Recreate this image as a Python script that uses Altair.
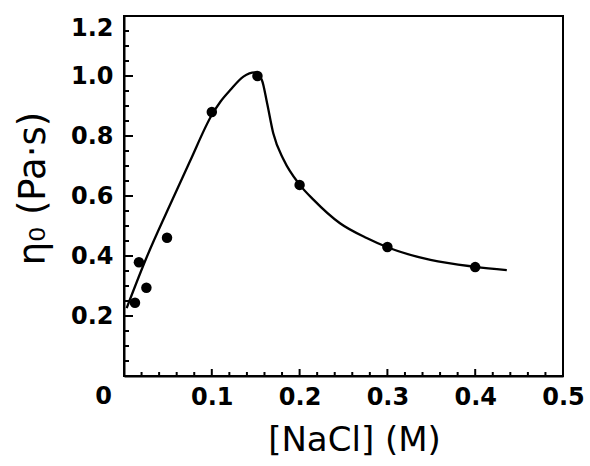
import altair as alt
import pandas as pd

# Measured points
nacl = [0.0125, 0.017, 0.0255, 0.049, 0.1, 0.152, 0.2, 0.3, 0.4]
eta0 = [0.244, 0.379, 0.294, 0.461, 0.88, 1.0, 0.637, 0.43, 0.363]

# Fitted curve
curve_x = [0.003, 0.025, 0.05, 0.075, 0.1, 0.11, 0.121, 0.136, 0.149,
           0.157, 0.163, 0.170, 0.182, 0.2, 0.216, 0.246, 0.277, 0.3, 0.349, 0.4, 0.436]
curve_y = [0.226, 0.39, 0.555, 0.715, 0.87, 0.915, 0.953, 0.998, 1.012,
           0.987, 0.909, 0.809, 0.72, 0.638, 0.587, 0.509, 0.459, 0.429, 0.387, 0.364, 0.353]

x_major = [0.1, 0.2, 0.3, 0.4, 0.5]
x_minor = [0.02, 0.04, 0.06, 0.08, 0.12, 0.14, 0.16, 0.18, 0.22, 0.24, 0.26, 0.28,
           0.32, 0.34, 0.36, 0.38, 0.42, 0.44, 0.46, 0.48]
y_major = [0.2, 0.4, 0.6, 0.8, 1.0, 1.2]
y_minor = [0.05, 0.1, 0.15, 0.25, 0.3, 0.35, 0.45, 0.5, 0.55, 0.65, 0.7, 0.75,
           0.85, 0.9, 0.95, 1.05, 1.1, 1.15]
origin_label = ["0"]

pts = pd.DataFrame({"x": nacl, "y": eta0})
crv = pd.DataFrame({"x": curve_x, "y": curve_y})
org = pd.DataFrame({"x": [0.0], "y": [0.0], "t": origin_label})

LFONT = "DejaVu Sans"
H = 360

xscale = alt.Scale(domain=[0, 0.5], nice=False, zero=False)
yscale = alt.Scale(domain=[0, 1.2], nice=False, zero=False)

xaxis = alt.Axis(
    values=x_major, format=".1f", ticks=False,
    domainColor="black", domainWidth=2,
    labelFont=LFONT, labelFontSize=24, labelFontWeight="bold", labelColor="black",
    labelPadding=9, labelOverlap=False, labelFlush=False,
    title="[NaCl] (M)", titleFont=LFONT, titleFontSize=34, titleFontWeight="normal",
    titleColor="black", titlePadding=14, titleX=230, grid=False,
)
yaxis = alt.Axis(
    values=y_major, format=".1f", ticks=False,
    domainColor="black", domainWidth=2,
    labelFont=LFONT, labelFontSize=24, labelFontWeight="bold", labelColor="black",
    labelPadding=11, labelOverlap=False, labelFlush=True, labelFlushOffset=0,
    title="η₀ (Pa·s)", titleFont=LFONT, titleFontSize=37, titleFontWeight="normal",
    titleColor="black", titlePadding=18, titleY=172, grid=False,
)

line = alt.Chart(crv).mark_line(color="black", strokeWidth=2.3, interpolate="monotone").encode(
    x=alt.X("x:Q", scale=xscale, axis=xaxis),
    y=alt.Y("y:Q", scale=yscale, axis=yaxis),
)
points = alt.Chart(pts).mark_circle(size=110, color="black", opacity=1).encode(
    x=alt.X("x:Q", scale=xscale),
    y=alt.Y("y:Q", scale=yscale),
)
origin = alt.Chart(org).mark_text(
    font=LFONT, fontSize=24, fontWeight="bold", color="black",
    align="right", baseline="top", dx=-12, dy=9,
).encode(
    x=alt.X("x:Q", scale=xscale),
    y=alt.Y("y:Q", scale=yscale),
    text="t:N",
)

def xticks(vals, length):
    return alt.Chart(pd.DataFrame({"x": vals})).mark_rule(color="black", strokeWidth=2).encode(
        x=alt.X("x:Q", scale=xscale),
        y=alt.value(H), y2=alt.value(H - length),
    )

def yticks(vals, length):
    return alt.Chart(pd.DataFrame({"y": vals})).mark_rule(color="black", strokeWidth=2).encode(
        y=alt.Y("y:Q", scale=yscale),
        x=alt.value(0), x2=alt.value(length),
    )

chart = alt.layer(
    line, points, origin,
    xticks(x_major, 7), xticks(x_minor, 4),
    yticks(y_major, 9), yticks(y_minor, 5),
).properties(
    width=439, height=H,
    autosize=alt.AutoSizeParams(type="none"),
    padding={"left": 124, "top": 16, "right": 27, "bottom": 90},
    background="white",
).configure_view(stroke="black", strokeWidth=2)

chart.save("out.html", embed_options={"renderer": "svg", "actions": False})
